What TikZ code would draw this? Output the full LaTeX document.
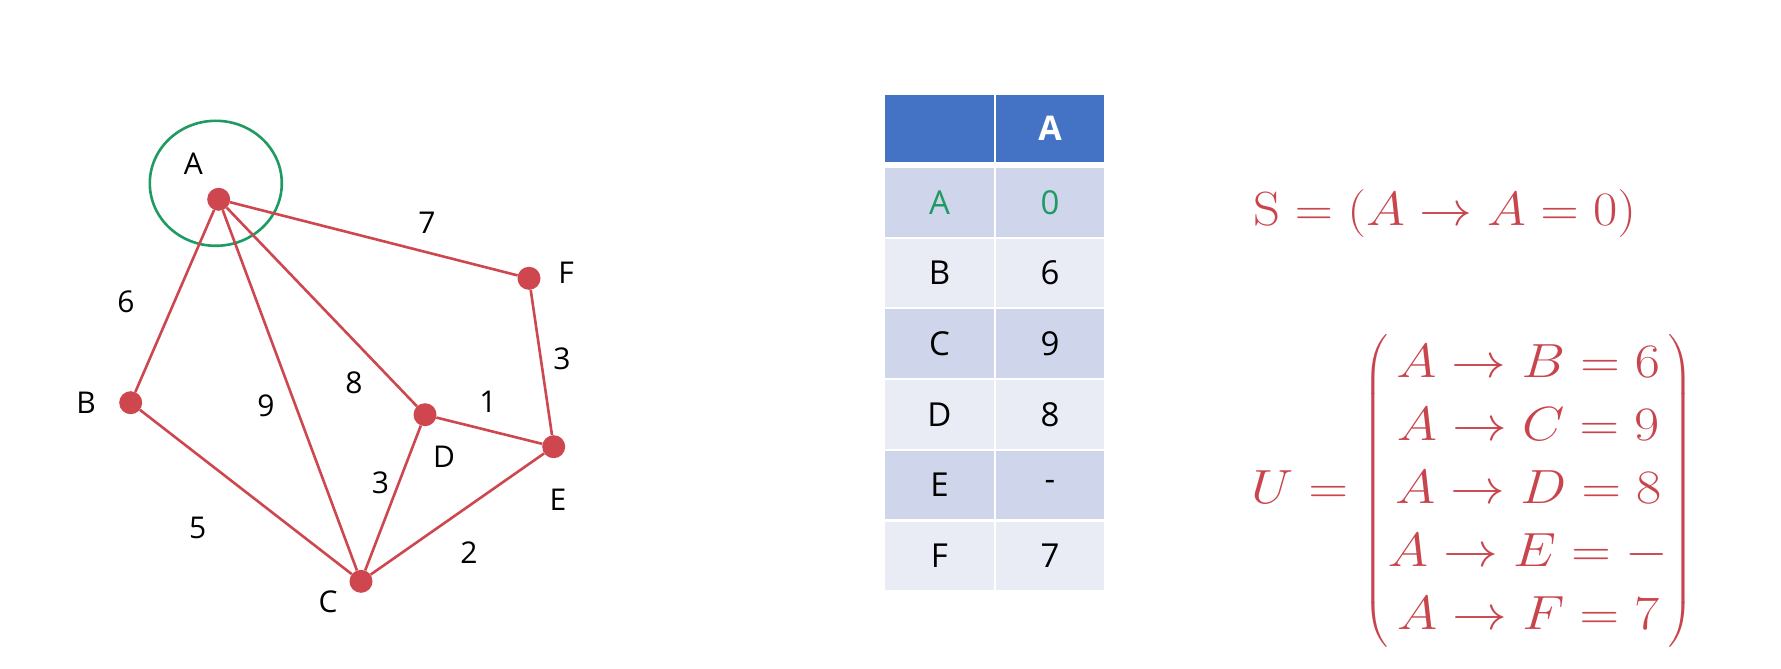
\RequirePackage{fix-cm}
\documentclass[tikz,border=0pt]{standalone}
\usepackage{amsmath}
\usepackage{graphicx}
\usepackage[no-math]{fontspec}
\setmainfont{Open Sans}
\usetikzlibrary{shapes.geometric}
\definecolor{gred}{HTML}{CE474E}
\definecolor{mred}{HTML}{C9454D}
\definecolor{ggreen}{HTML}{1E9A62}
\definecolor{hblue}{HTML}{4472C4}
\definecolor{rowa}{HTML}{CFD5EA}
\definecolor{rowb}{HTML}{E9EBF5}
\tikzset{
  vdot/.style={circle, fill=gred, inner sep=0pt, minimum size=23pt},
  edge/.style={draw=gred, line width=2.6pt},
  vlbl/.style={font=\fontsize{30}{36}\selectfont, text=black, inner sep=0pt},
  wlbl/.style={font=\fontsize{30}{36}\selectfont, text=black, inner sep=0pt},
  cell/.style={rectangle, inner sep=0pt, minimum height=68.5pt, font=\fontsize{33}{40}\selectfont},
  hcell/.style={rectangle, inner sep=0pt, fill=hblue, minimum height=67pt, font=\fontsize{34}{40}\selectfont\bfseries, text=white},
  eqn/.style={inner sep=0pt, text=mred},
}
\begin{document}
\begin{tikzpicture}[x=1pt,y=-1pt]
\useasboundingbox[fill=white] (0,0) rectangle (1781,669);
% ring around A
\node[draw=ggreen, line width=2.6pt, ellipse, minimum width=132pt, minimum height=125pt, inner sep=0pt] (ring) at (215.8,183.3) {};
% vertices
\node[vdot] (A) at (218.7,199.3) {};
\node[vdot] (B) at (130.7,402.7) {};
\node[vdot] (C) at (361,581.3) {};
\node[vdot] (D) at (425,414.7) {};
\node[vdot] (E) at (553.7,446.7) {};
\node[vdot] (F) at (529,278.3) {};
% edges
\draw[edge] (A) -- (B);
\draw[edge] (A) -- (C);
\draw[edge] (A) -- (D);
\draw[edge] (A) -- (F);
\draw[edge] (B) -- (C);
\draw[edge] (C) -- (D);
\draw[edge] (C) -- (E);
\draw[edge] (D) -- (E);
\draw[edge] (F) -- (E);
% vertex labels
\node[vlbl] (lA) at (193.3,163.3) {A};
\node[vlbl] (lB) at (86,403) {B};
\node[vlbl] (lC) at (328,602) {C};
\node[vlbl] (lD) at (444,457) {D};
\node[vlbl] (lE) at (558,500) {E};
\node[vlbl] (lF) at (566,273) {F};
% weights
\node[wlbl] (w7) at (427,223) {7};
\node[wlbl] (w6) at (126,302) {6};
\node[wlbl] (w3a) at (562,359) {3};
\node[wlbl] (w8) at (354,383) {8};
\node[wlbl] (w9) at (266,405.5) {9};
\node[wlbl] (w1) at (488,402) {1};
\node[wlbl] (w3b) at (380.5,483) {3};
\node[wlbl] (w5) at (197.6,528) {5};
\node[wlbl] (w2) at (469,553) {2};
% table
\node[hcell, minimum width=109pt] (h0) at (939.5,128.5) {};
\node[hcell, minimum width=108pt] (h1) at (1050,128.5) {A};
\node[cell, fill=rowa, minimum width=109pt, text=ggreen] (r0a) at (939.5,202.25) {A};
\node[cell, fill=rowa, minimum width=108pt, text=ggreen] (r0b) at (1050,202.25) {0};
\node[cell, fill=rowb, minimum width=109pt] (r1a) at (939.5,272.95) {B};
\node[cell, fill=rowb, minimum width=108pt] (r1b) at (1050,272.95) {6};
\node[cell, fill=rowa, minimum width=109pt] (r2a) at (939.5,343.65) {C};
\node[cell, fill=rowa, minimum width=108pt] (r2b) at (1050,343.65) {9};
\node[cell, fill=rowb, minimum width=109pt] (r3a) at (939.5,414.35) {D};
\node[cell, fill=rowb, minimum width=108pt] (r3b) at (1050,414.35) {8};
\node[cell, fill=rowa, minimum width=109pt] (r4a) at (939.5,485.05) {E};
\node[cell, fill=rowa, minimum width=108pt] (r4b) at (1050,485.05) {-};
\node[cell, fill=rowb, minimum width=109pt] (r5a) at (939.5,555.75) {F};
\node[cell, fill=rowb, minimum width=108pt] (r5b) at (1050,555.75) {7};
% equations
\node[eqn, anchor=base west, font=\fontsize{48}{58}\selectfont] (Seq) at (1253,225)
  {\scalebox{1.10}[1]{$\mathrm{S} = (A \rightarrow A = 0)$}};
\node[eqn, anchor=west, font=\fontsize{48}{63}\selectfont] (Ueq) at (1251,491)
  {\scalebox{1.14}[1]{$U = \begin{pmatrix} A \rightarrow B = 6\\ A \rightarrow C = 9\\ A \rightarrow D = 8\\ A \rightarrow E = -\\ A \rightarrow F = 7\end{pmatrix}$}};
\end{tikzpicture}
\end{document}
